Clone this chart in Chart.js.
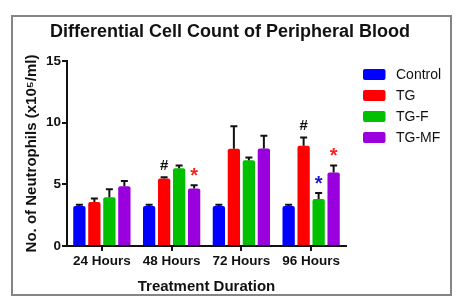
<!DOCTYPE html>
<html>
<head>
<meta charset="utf-8">
<script src="https://cdn.jsdelivr.net/npm/chart.js@4.4.1/dist/chart.umd.min.js"></script>
<style>
  html, body { margin: 0; padding: 0; background: #fff; }
  #wrap { width: 460px; height: 307px; position: relative; }
</style>
</head>
<body>
<div id="wrap"><canvas id="c" width="460" height="307"></canvas></div>
<script>
// ---- data ----
const categories = ['24 Hours', '48 Hours', '72 Hours', '96 Hours'];
const seriesNames = ['Control', 'TG', 'TG-F', 'TG-MF'];
const controlValues = [3.25, 3.25, 3.25, 3.25];
const controlErr = [0.1, 0.1, 0.1, 0.1];
const tgValues = [3.57, 5.47, 7.88, 8.12];
const tgErr = [0.28, 0.11, 1.82, 0.68];
const tgfValues = [3.96, 6.30, 6.96, 3.82];
const tgfErr = [0.64, 0.23, 0.22, 0.48];
const tgmfValues = [4.85, 4.66, 7.91, 5.96];
const tgmfErr = [0.43, 0.27, 1.03, 0.57];
const yTicks = [0, 5, 10, 15];
// significance marks: [category index, series index, symbol, colour]
const marks = [
  [1, 1, '#', '#111111'],
  [1, 3, '*', '#ff2020'],
  [3, 1, '#', '#111111'],
  [3, 2, '*', '#1a1acc'],
  [3, 3, '*', '#ff2020']
];

const colors = ['#0000ff', '#ff0000', '#00c000', '#9900dd'];
const values = [controlValues, tgValues, tgfValues, tgmfValues];
const errors = [controlErr, tgErr, tgfErr, tgmfErr];

const FONT = "'Liberation Sans', Arial, Helvetica, sans-serif";

const framePlugin = {
  id: 'frame',
  beforeInit(chart) {
    // reserve room on the right for the legend without shrinking the title box
    const spacer = {
      position: 'right', weight: 0, fullSize: false, options: {},
      top: 0, left: 0, right: 0, bottom: 0, width: 114, height: 0,
      update(maxW, maxH) { this.width = 114; this.height = maxH; },
      isHorizontal() { return false; },
      draw() {}
    };
    Chart.layouts.addBox(chart, spacer);
  },
  beforeDraw(chart) {
    const ctx = chart.ctx;
    ctx.save();
    ctx.fillStyle = '#ffffff';
    ctx.fillRect(0, 0, chart.width, chart.height);
    ctx.strokeStyle = '#858585';
    ctx.lineWidth = 2;
    ctx.strokeRect(12, 16, 439, 279);
    ctx.restore();
  }
};

const errorBarPlugin = {
  id: 'errorBars',
  afterDatasetsDraw(chart) {
    const ctx = chart.ctx;
    const yScale = chart.scales.y;
    ctx.save();
    ctx.strokeStyle = '#111111';
    ctx.lineWidth = 2;
    chart.data.datasets.forEach((ds, di) => {
      const meta = chart.getDatasetMeta(di);
      meta.data.forEach((bar, i) => {
        const top = yScale.getPixelForValue(ds.data[i] + ds.errors[i]);
        ctx.beginPath();
        ctx.moveTo(bar.x, bar.y);
        ctx.lineTo(bar.x, top);
        ctx.moveTo(bar.x - 3.5, top);
        ctx.lineTo(bar.x + 3.5, top);
        ctx.stroke();
      });
    });
    // significance marks
    marks.forEach(([ci, si, sym, col]) => {
      const ds = chart.data.datasets[si];
      const bar = chart.getDatasetMeta(si).data[ci];
      const top = yScale.getPixelForValue(ds.data[ci] + ds.errors[ci]);
      ctx.fillStyle = col;
      ctx.textAlign = 'center';
      ctx.textBaseline = 'alphabetic';
      if (sym === '#') {
        ctx.font = 'bold 15px ' + FONT;
        ctx.fillText(sym, bar.x, top - 7);
      } else {
        ctx.font = 'bold 20px ' + FONT;
        ctx.fillText(sym, bar.x, top - 3);
      }
    });
    ctx.restore();
  }
};

const legendPlugin = {
  id: 'sideLegend',
  afterDraw(chart) {
    const ctx = chart.ctx;
    const area = chart.chartArea;
    ctx.save();
    ctx.font = '14px ' + FONT;
    ctx.textBaseline = 'middle';
    ctx.textAlign = 'left';
    chart.data.datasets.forEach((ds, i) => {
      const cy = area.top + 13.5 + i * 21;
      const bx = area.right + 17;
      ctx.fillStyle = ds.backgroundColor;
      ctx.beginPath();
      ctx.roundRect(bx, cy - 5.5, 22.5, 11, 2);
      ctx.fill();
      ctx.fillStyle = '#111111';
      ctx.fillText(ds.label, bx + 33, cy + 0.5);
    });
    ctx.restore();
  }
};

const datasets = seriesNames.map((name, i) => ({
  label: name,
  data: values[i],
  errors: errors[i],
  backgroundColor: colors[i],
  borderWidth: 0,
  borderRadius: { topLeft: 2, topRight: 2 },
  borderSkipped: 'start',
  categoryPercentage: 0.86,
  barPercentage: 0.82
}));

new Chart(document.getElementById('c'), {
  type: 'bar',
  data: { labels: categories, datasets },
  plugins: [framePlugin, errorBarPlugin, legendPlugin],
  options: {
    responsive: false,
    animation: false,
    devicePixelRatio: 1,
    layout: { padding: { left: 0, right: 0, top: 0, bottom: 0 } },
    plugins: {
      legend: { display: false },
      tooltip: { enabled: false },
      title: {
        display: true,
        text: 'Differential Cell Count of Peripheral Blood',
        color: '#111111',
        font: { family: FONT, size: 18, weight: 'bold', lineHeight: 1.2 },
        padding: { top: 21, bottom: 18.4 }
      }
    },
    scales: {
      x: {
        offset: true,
        grid: { display: true, offset: false, drawOnChartArea: false, drawTicks: true, tickLength: 5, color: '#111111', lineWidth: 2 },
        border: { display: true, color: '#111111', width: 2 },
        ticks: { color: '#111111', padding: 2, font: { family: FONT, size: 13.5, weight: 'bold' }, maxRotation: 0 },
        title: {
          display: true,
          text: 'Treatment Duration',
          color: '#111111',
          font: { family: FONT, size: 15, weight: 'bold', lineHeight: 1.2 },
          padding: { top: 0, bottom: 11 }
        },
        afterFit(scale) { scale.height = 61; }
      },
      y: {
        min: 0,
        max: 15,
        afterBuildTicks(scale) { scale.ticks = yTicks.map(v => ({ value: v })); },
        grid: { display: true, drawOnChartArea: false, drawTicks: true, tickLength: 5, color: '#111111', lineWidth: 2 },
        border: { display: true, color: '#111111', width: 2 },
        ticks: { color: '#111111', padding: 1, font: { family: FONT, size: 13.5, weight: 'bold' } },
        title: {
          display: true,
          text: 'No. of Neutrophils (x10\u2075/ml)',
          color: '#111111',
          font: { family: FONT, size: 15, weight: 'bold', lineHeight: 1.2 },
          padding: { top: 22.5, bottom: 0 }
        },
        afterFit(scale) { scale.width = 67; }
      }
    }
  }
});
</script>
</body>
</html>
